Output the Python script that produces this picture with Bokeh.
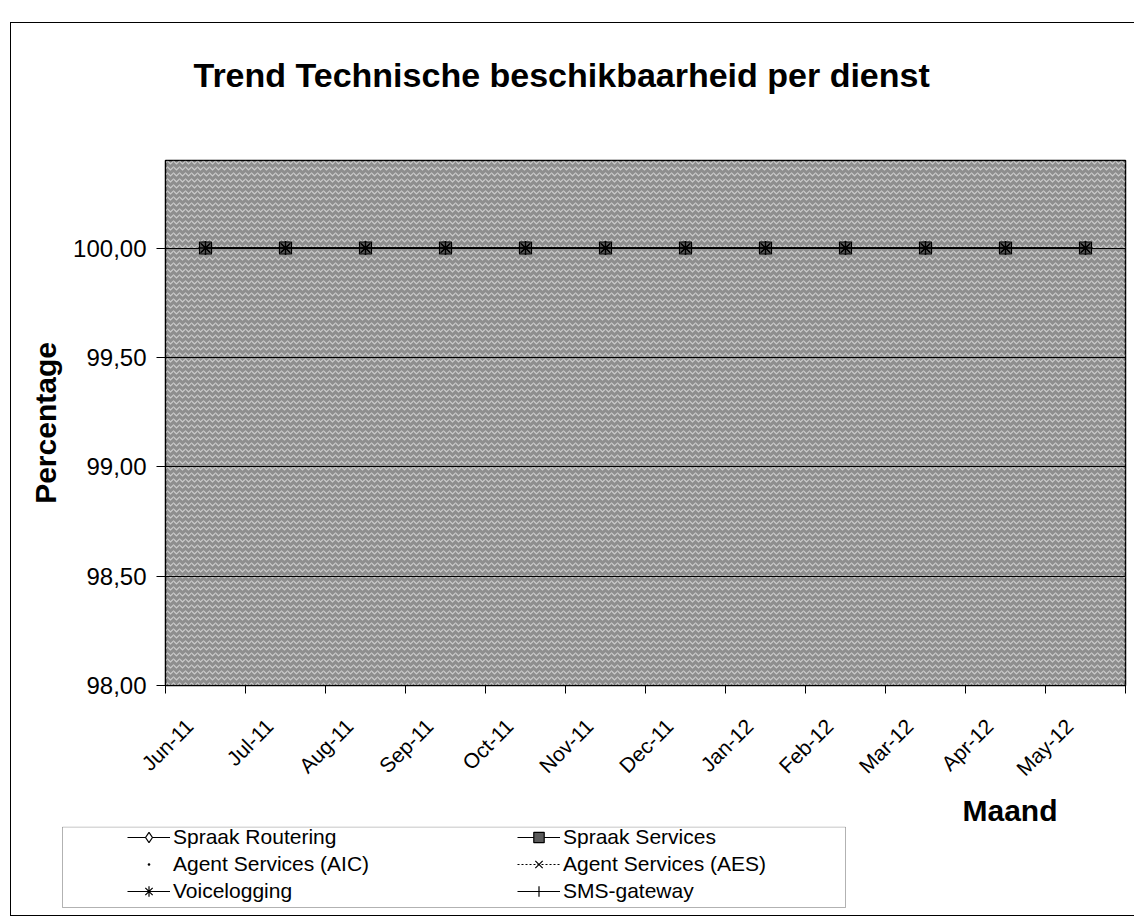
import math
from bokeh.plotting import figure
from bokeh.layouts import column, row
from bokeh.models import (FixedTicker, Legend, LegendItem, BoxAnnotation, Title,
                          Range1d, ColumnDataSource, Spacer)
from bokeh.embed import file_html
from bokeh.resources import INLINE

# ---------------- data ----------------
months = ["Jun-11", "Jul-11", "Aug-11", "Sep-11", "Oct-11", "Nov-11",
          "Dec-11", "Jan-12", "Feb-12", "Mar-12", "Apr-12", "May-12"]
spraak_routering = [100.00, 100.00, 100.00, 100.00, 100.00, 100.00,
                    100.00, 100.00, 100.00, 100.00, 100.00, 100.00]
spraak_services = [100.00, 100.00, 100.00, 100.00, 100.00, 100.00,
                   100.00, 100.00, 100.00, 100.00, 100.00, 100.00]
agent_services_aic = [100.00, 100.00, 100.00, 100.00, 100.00, 100.00,
                      100.00, 100.00, 100.00, 100.00, 100.00, 100.00]
agent_services_aes = [100.00, 100.00, 100.00, 100.00, 100.00, 100.00,
                      100.00, 100.00, 100.00, 100.00, 100.00, 100.00]
voicelogging = [100.00, 100.00, 100.00, 100.00, 100.00, 100.00,
                100.00, 100.00, 100.00, 100.00, 100.00, 100.00]
sms_gateway = [100.00, 100.00, 100.00, 100.00, 100.00, 100.00,
               100.00, 100.00, 100.00, 100.00, 100.00, 100.00]
y_ticks = [98.0, 98.5, 99.0, 99.5, 100.0]
y_tick_labels = ["98,00", "98,50", "99,00", "99,50", "100,00"]
y_min, y_max = 98.0, 100.4

title_text = "Trend Technische beschikbaarheid per dienst"
y_title = "Percentage"
x_title = "Maand"

FONT = "Liberation Sans"

n = len(months)
centers = [i + 0.5 for i in range(n)]
bounds = [float(i) for i in range(n + 1)]
label_pos = [c - 0.2 for c in centers]

W = 1124
TH = 137      # title strip
PH = 667      # plot
LH = 90       # legend strip

# ---------------- title strip ----------------
t = figure(width=W, height=TH, x_range=Range1d(0, 1), y_range=Range1d(0, 1),
           output_backend="svg", toolbar_location=None,
           x_axis_location=None, y_axis_location=None,
           min_border_left=0, min_border_right=0, min_border_top=75, min_border_bottom=0)
t.styles = {"border-left": "1px solid black", "border-top": "1px solid black"}
t.outline_line_color = None
t.xgrid.visible = False
t.ygrid.visible = False
t.background_fill_color = "white"
t.border_fill_color = "white"
t.title.text = title_text
t.title.align = "left"
t.title.offset = 182
t.title.standoff = 10
t.title.text_font = FONT
t.title.text_font_style = "bold"
t.title.text_font_size = "34px"
t.title.text_color = "black"

# ---------------- main figure ----------------
p = figure(width=W, height=PH, x_range=Range1d(0, n), y_range=Range1d(y_min, y_max),
           output_backend="svg", toolbar_location=None, title=None,
           min_border_left=154, min_border_right=10, min_border_top=1,
           min_border_bottom=PH - 1 - 526)
p.styles = {"border-left": "1px solid black"}

p.background_fill_color = "#8e8e8e"
p.border_fill_color = "white"
p.outline_line_color = "black"
p.outline_line_width = 1.5

texture = BoxAnnotation(fill_alpha=0, line_alpha=0, hatch_pattern="horizontal_wave",
                        hatch_color="white", hatch_alpha=0.55, hatch_scale=6, hatch_weight=1.2,
                        level="image")
p.add_layout(texture)

xa = p.xaxis[0]
xa.ticker = FixedTicker(ticks=label_pos, minor_ticks=bounds)
xa.major_label_overrides = {c: m for c, m in zip(label_pos, months)}
xa.major_tick_out = 0
xa.major_tick_in = 0
xa.minor_tick_out = 8
xa.minor_tick_in = 0
xa.minor_tick_line_color = "black"
xa.axis_line_color = "black"
xa.major_label_orientation = math.pi / 4
xa.major_label_text_font = FONT
xa.major_label_text_font_size = "21px"
xa.major_label_text_color = "black"
xa.major_label_standoff = 29

ya = p.yaxis[0]
ya.ticker = FixedTicker(ticks=y_ticks)
ya.major_label_overrides = {tk: lb for tk, lb in zip(y_ticks, y_tick_labels)}
ya.major_tick_out = 9
ya.major_tick_in = 0
ya.minor_tick_out = 0
ya.minor_tick_in = 0
ya.axis_line_color = "black"
ya.major_tick_line_color = "black"
ya.major_label_text_font = FONT
ya.major_label_text_font_size = "24px"
ya.major_label_text_color = "black"
ya.major_label_standoff = 10
ya.axis_label = y_title
ya.axis_label_text_font = FONT
ya.axis_label_text_font_style = "bold"
ya.axis_label_text_font_size = "30px"
ya.axis_label_text_color = "black"
ya.axis_label_standoff = 8

p.xgrid.visible = False
p.ygrid.grid_line_color = "black"
p.ygrid.grid_line_width = 1

p.add_layout(Title(text=x_title, align="left", offset=797, standoff=0,
                   text_font=FONT, text_font_style="bold", text_font_size="30px",
                   text_color="black"), "below")

# ---------------- legend strip ----------------
q = figure(width=W, height=LH, x_range=Range1d(0, n), y_range=Range1d(0, 1),
           output_backend="svg", toolbar_location=None,
           x_axis_location=None, y_axis_location=None,
           min_border_left=0, min_border_right=0, min_border_top=0, min_border_bottom=0)
q.styles = {"border-left": "1px solid black", "border-bottom": "1px solid black"}
q.outline_line_color = None
q.xgrid.visible = False
q.ygrid.visible = False
q.background_fill_color = "white"
q.border_fill_color = "white"

series = [
    ("Spraak Routering", spraak_routering, dict(marker="diamond", size=13, fill_color="white"), dict()),
    ("Spraak Services", spraak_services, dict(marker="square", size=12, fill_color="#5a5a5a"), dict()),
    ("Agent Services (AIC)", agent_services_aic, dict(marker="dot", size=14, fill_color="black"), dict(line_alpha=0)),
    ("Agent Services (AES)", agent_services_aes, dict(marker="x", size=12, fill_color="black"), dict(line_dash="2 2")),
    ("Voicelogging", voicelogging, dict(marker="asterisk", size=14, fill_color="black"), dict()),
    ("SMS-gateway", sms_gateway, dict(marker="cross", size=14, fill_color="black"), dict()),
]

items = {}
for name, vals, mk, ln in series:
    src = ColumnDataSource(dict(x=centers, y=vals))
    p.line("x", "y", source=src, line_color="black", line_width=1.2, **ln)
    p.scatter("x", "y", source=src, line_color="black", line_width=1.2, **mk)
    # same series in the legend strip (values lie outside its range, only the keys show)
    lr = q.line("x", "y", source=src, line_color="black", line_width=1.2, **ln)
    sr = q.scatter("x", "y", source=src, line_color="black", line_width=1.2, **mk)
    items[name] = LegendItem(label=name, renderers=[lr, sr])

order = ["Spraak Routering", "Agent Services (AIC)", "Voicelogging",
         "Spraak Services", "Agent Services (AES)", "SMS-gateway"]

legend_box = BoxAnnotation(left=51, right=834, bottom=9, top=LH - 0.5,
                           left_units="screen", right_units="screen",
                           bottom_units="screen", top_units="screen",
                           fill_color="white", fill_alpha=1, line_color="black", line_width=1)
q.add_layout(legend_box)

legend = Legend(items=[items[k] for k in order], location=(116, 12), ncols=2,
                orientation="vertical", padding=0, spacing=1, margin=0,
                glyph_width=43, glyph_height=26, label_height=26, label_width=343,
                label_standoff=3, border_line_alpha=0, background_fill_alpha=0,
                label_text_font=FONT, label_text_font_size="21px", label_text_color="black")
q.add_layout(legend)

root_title = column(Spacer(height=22), row(Spacer(width=10), t))
root_plot = row(Spacer(width=10), p)
root_legend = row(Spacer(width=10), q)

open("out.html", "w").write(file_html([root_title, root_plot, root_legend], INLINE))
